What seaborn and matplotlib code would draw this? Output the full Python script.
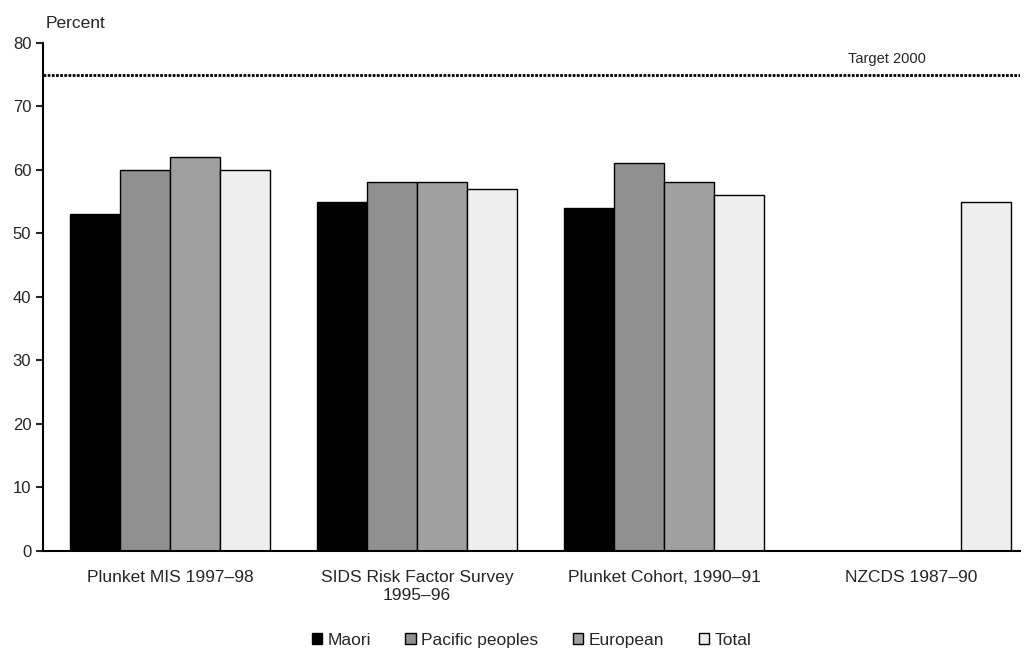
import numpy as np
import pandas as pd
import matplotlib
matplotlib.use("Agg")
import matplotlib.pyplot as plt
import seaborn as sns

surveys = ["Plunket MIS 1997\u201398", "SIDS Risk Factor Survey\n1995\u201396",
           "Plunket Cohort, 1990\u201391", "NZCDS 1987\u201390"]
groups = ["Maori", "Pacific peoples", "European", "Total"]
maori = [53, 55, 54, np.nan]
pacific = [60, 58, 61, np.nan]
european = [62, 58, 58, np.nan]
total = [60, 57, 56, 55]
target = 75
colors = ["#000000", "#909090", "#a0a0a0", "#eeeeee"]

rows = []
for g, vals in zip(groups, [maori, pacific, european, total]):
    for s, v in zip(surveys, vals):
        rows.append({"survey": s, "group": g, "value": v})
df = pd.DataFrame(rows)

sns.set_style("white")
plt.rcParams["font.family"] = ["Liberation Sans", "DejaVu Sans"]

fig = plt.figure(figsize=(10.26, 6.48), dpi=100)
ax = fig.add_axes([0.042, 0.150, 0.952, 0.784])

sns.barplot(data=df, x="survey", y="value", hue="group", order=surveys,
            hue_order=groups, palette=colors, width=0.81, edgecolor="black",
            linewidth=1, saturation=1, ax=ax)

ax.axhline(target, color="black", linestyle=(0, (1, 0.5)), linewidth=2)
ax.text(2.9, target + 1.4, "Target 2000", ha="center", va="bottom", fontsize=10.5)

ax.set_ylim(0, 80)
ax.set_xlim(-0.514, 3.44)
ax.set_yticks(range(0, 81, 10))
ax.tick_params(axis="y", labelsize=12, length=5, width=1.5, left=True, direction="out")
ax.tick_params(axis="x", labelsize=12.5, length=0, pad=14)
ax.set_xlabel("")
ax.set_ylabel("")
for side in ["top", "right"]:
    ax.spines[side].set_visible(False)
for side in ["left", "bottom"]:
    ax.spines[side].set_linewidth(1.5)
    ax.spines[side].set_color("black")

fig.text(0.044, 0.963, "Percent", fontsize=12.5, ha="left", va="center")

ax.legend(loc="lower center", bbox_to_anchor=(0.5, -0.222), ncol=4, frameon=False,
          fontsize=12.5, handlelength=0.6, handleheight=0.6, handletextpad=0.3,
          columnspacing=2.0)

fig.savefig("out.png", dpi=100)
